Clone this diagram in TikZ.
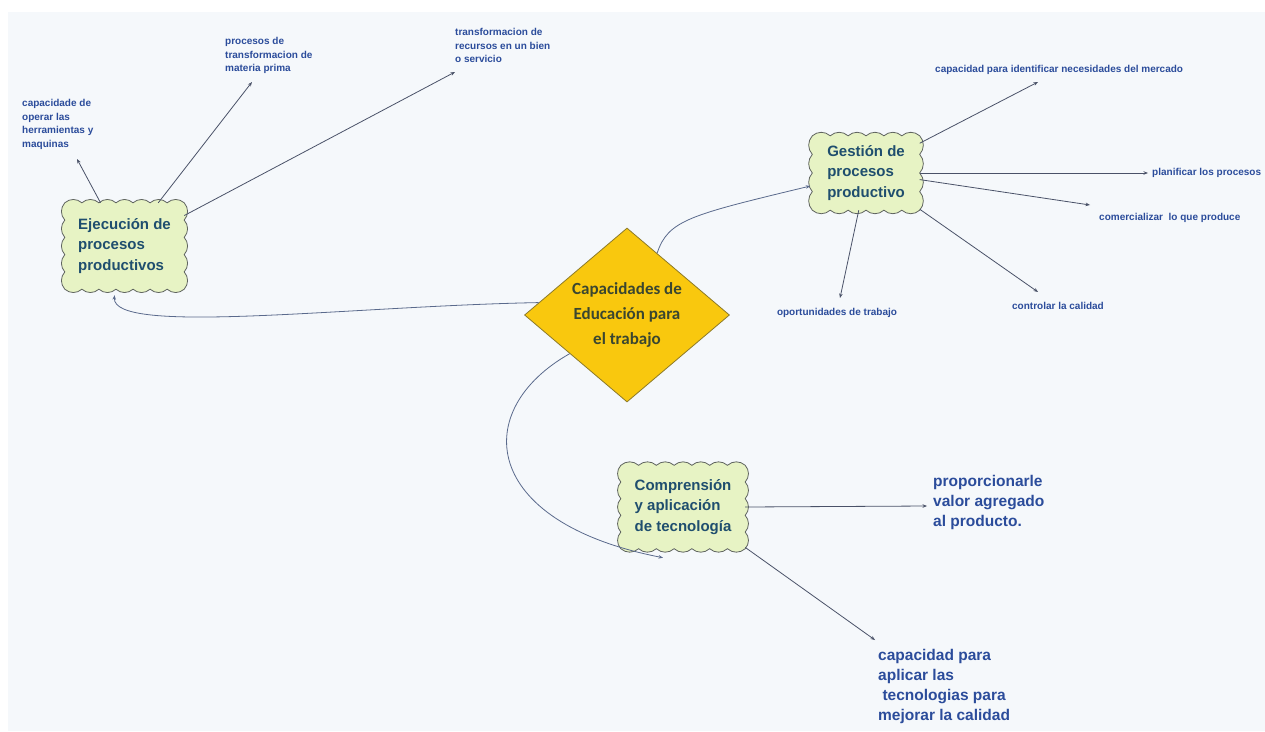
\documentclass[tikz,border=0pt]{standalone}
\usepackage{fontspec}
\setmainfont{Liberation Sans}
\newfontfamily\carlitofont{Carlito}
\usetikzlibrary{shapes.geometric,arrows.meta,calc,backgrounds}
\definecolor{panel}{HTML}{F5F8FB}
\definecolor{cloudfill}{HTML}{E7F3C4}
\definecolor{cloudline}{HTML}{5F645F}
\definecolor{cloudtext}{HTML}{1F4E6E}
\definecolor{labtext}{HTML}{2B4C9B}
\definecolor{gold}{HTML}{F9C80E}
\definecolor{goldline}{HTML}{8C7A28}
\definecolor{diatext}{HTML}{3A4630}
\definecolor{wire}{HTML}{4A5268}
\definecolor{curvecol}{HTML}{5A6A8C}
% scalloped border round a node: node name, bumps across, bumps down
\newcommand{\cloudborder}[3]{%
  \filldraw[cloudedge] (#1.north west)
    \foreach \i in {1,...,#2} { to[bend left=42] ($(#1.north west)!\i/#2!(#1.north east)$) }
    \foreach \i in {1,...,#3} { to[bend left=42] ($(#1.north east)!\i/#3!(#1.south east)$) }
    \foreach \i in {1,...,#2} { to[bend left=42] ($(#1.south east)!\i/#2!(#1.south west)$) }
    \foreach \i in {1,...,#3} { to[bend left=42] ($(#1.south west)!\i/#3!(#1.north west)$) }
    -- cycle;}
\begin{document}
\begin{tikzpicture}[x=1pt,y=-1pt,
  cloudedge/.style={draw=cloudline, line width=0.8pt, fill=cloudfill},
  cloudbox/.style={inner sep=0pt, text=cloudtext, font=\bfseries\fontsize{15}{20.5}\selectfont, align=left},
  small/.style={text=labtext, font=\bfseries\fontsize{10}{13.7}\selectfont, align=left, inner sep=0pt},
  big/.style={text=labtext, font=\bfseries\fontsize{15.5}{20}\selectfont, align=left, inner sep=0pt},
  wireline/.style={draw=wire, line width=0.8pt, -{Stealth[length=4.5pt,width=3.5pt]}},
  curveline/.style={draw=curvecol, line width=0.8pt, -{Stealth[length=4.5pt,width=3.5pt]}}
]
\useasboundingbox (0,0) rectangle (1265,731);

% central diamond
\node[diamond, fill=gold, draw=goldline, line width=0.8pt, aspect=1.18,
  minimum width=205pt, minimum height=174pt, inner sep=0pt, text=diatext,
  font=\carlitofont\bfseries\fontsize{17}{25}\selectfont, align=center]
  (dia) at (627,315) {Capacidades de\\Educación para\\el trabajo};

% clouds (text nodes; scalloped borders drawn behind)
\node[cloudbox, minimum width=119pt, minimum height=86pt] (ej) at (124.5,246) {Ejecución de\\procesos\\productivos};
\node[cloudbox, minimum width=107pt, minimum height=74pt] (ge) at (866,173) {Gestión de\\procesos\\productivo};
\node[cloudbox, minimum width=124pt, minimum height=83pt] (co) at (683,507) {Comprensión\\y aplicación\\de tecnología};

% labels
\node[small, anchor=north west] (l1) at (22,99) {capacidade de\\operar las\\herramientas y\\maquinas};
\node[small, anchor=north west] (l2) at (225,37) {procesos de\\transformacion de\\materia prima};
\node[small, anchor=north west] (l3) at (455,28) {transformacion de\\recursos en un bien\\o servicio};
\node[small, anchor=west] (l4) at (935,70) {capacidad para identificar necesidades del mercado};
\node[small, anchor=west] (l5) at (1152,173) {planificar los procesos};
\node[small, anchor=west] (l6) at (1099,218) {comercializar\ \ lo que produce};
\node[small] (l7) at (837,313) {oportunidades de trabajo};
\node[small] (l8) at (1058,306) {controlar la calidad};
\node[big, anchor=north west] (l9) at (933,475) {proporcionarle\\valor agregado\\al producto.};
\node[big, anchor=north west] (l10) at (878,649) {capacidad para\\aplicar las\\\ tecnologias para\\mejorar la calidad};

% arrow end points
\coordinate (t1) at (77,159);
\coordinate (t2) at (252,82);
\coordinate (t3) at (455,72);
\coordinate (t4) at (1038,82);
\coordinate (t5) at (1148,173);
\coordinate (t6) at (1090,205);
\coordinate (t7) at (840,298);
\coordinate (t8) at (1038,292);
\coordinate (t9) at (927,506);
\coordinate (t10) at (875,640);

\begin{scope}[on background layer]
  \fill[panel] (8,12) rectangle (1265,731);
  \cloudborder{ej}{7}{5}
  \cloudborder{ge}{6}{4}
  \cloudborder{co}{7}{5}
\end{scope}

% connectors from Ejecucion
\draw[wireline] (ej.119) -- (t1);
\draw[wireline] (ej.52) -- (t2);
\draw[wireline] (ej.27) -- (t3);
% connectors from Gestion
\draw[wireline] (ge.29) -- (t4);
\draw[wireline] (ge.east) -- (t5);
\draw[wireline] (ge.-7) -- (t6);
\draw[wireline] (ge.259) -- (t7);
\draw[wireline] (ge.-34) -- (t8);
% connectors from Comprension
\draw[wireline] (co.east) -- (t9);
\draw[wireline] (co.-33) -- (t10);

% curved connectors from the diamond
\draw[curveline] (dia.172) .. controls (350,306) and (112,336) .. ([xshift=-10pt,yshift=-6pt]ej.south);
\draw[curveline] (dia.64) .. controls (668,220) and (690,215) .. ([xshift=-2pt,yshift=-13pt]ge.west);
\draw[curveline] (dia.214) .. controls (470,410) and (480,522) .. ([xshift=-20pt,yshift=-9pt]co.south);
\end{tikzpicture}
\end{document}
